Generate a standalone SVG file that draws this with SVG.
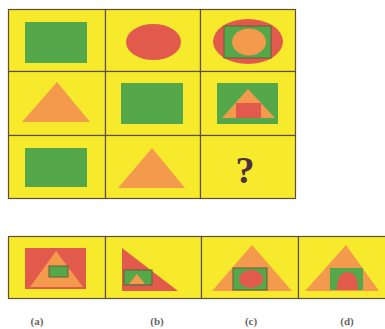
<svg xmlns="http://www.w3.org/2000/svg" width="385" height="329" viewBox="0 0 385 329">
<defs>
<style>
.cell{fill:#f7ea2c;stroke:#5d4f35;stroke-width:1.2}
.g{fill:#54a84a}
.r{fill:#e25a4c}
.o{fill:#f39a4c}
.gb{fill:#54a84a;stroke:#6b5a3a;stroke-width:1}
.lbl{font-family:"Liberation Serif",serif;font-size:11px;fill:#666;text-anchor:middle;font-weight:bold}
</style>
</defs>
<rect width="385" height="329" fill="#ffffff"/>
<g id="grid">
<rect class="cell" x="8.5" y="9.5" width="97" height="62"/>
<rect class="cell" x="105.5" y="9.5" width="95" height="62"/>
<rect class="cell" x="200.5" y="9.5" width="95" height="62"/>
<rect class="cell" x="8.5" y="71.5" width="97" height="64"/>
<rect class="cell" x="105.5" y="71.5" width="95" height="64"/>
<rect class="cell" x="200.5" y="71.5" width="95" height="64"/>
<rect class="cell" x="8.5" y="135.5" width="97" height="63"/>
<rect class="cell" x="105.5" y="135.5" width="95" height="63"/>
<rect class="cell" x="200.5" y="135.5" width="95" height="63"/>
</g>
<g id="r1c1"><rect class="g" x="25" y="22" width="62" height="41"/></g>
<g id="r1c2"><ellipse class="r" cx="153.5" cy="42" rx="27.5" ry="18"/></g>
<g id="r1c3">
<ellipse class="r" cx="248" cy="41.5" rx="35" ry="22.5"/>
<rect class="gb" x="224" y="26" width="47" height="32"/>
<ellipse class="o" cx="249" cy="42" rx="17" ry="13.5"/>
</g>
<g id="r2c1"><polygon class="o" points="57,82 90,122 22,122"/></g>
<g id="r2c2"><rect class="g" x="121" y="83" width="62" height="41"/></g>
<g id="r2c3">
<rect class="g" x="217" y="83" width="61" height="41"/>
<polygon class="o" points="248,89 275,118 222,118"/>
<rect class="r" x="236" y="103" width="25" height="15"/>
</g>
<g id="r3c1"><rect class="g" x="25" y="148" width="62" height="39"/></g>
<g id="r3c2"><polygon class="o" points="152,148 185,188 118,188"/></g>
<g id="r3c3"><text x="245" y="183" font-family="Liberation Serif,serif" font-size="38" font-weight="bold" fill="#4a3040" text-anchor="middle">?</text></g>
<g id="options">
<rect class="cell" x="8.5" y="236.5" width="97" height="62"/>
<rect class="cell" x="105.5" y="236.5" width="96" height="62"/>
<rect class="cell" x="201.5" y="236.5" width="97" height="62"/>
<rect class="cell" x="298.5" y="236.5" width="90" height="62"/>
</g>
<g id="opt-a">
<rect class="r" x="25" y="248" width="61" height="41"/>
<polygon class="o" points="56,251 83,287 30,287"/>
<rect class="gb" x="49" y="266" width="19" height="11"/>
</g>
<g id="opt-b">
<polygon class="r" points="122,248 178,291 122,291"/>
<rect class="gb" x="124" y="270" width="28" height="15"/>
<polygon class="o" points="137,274 145,284 129,284"/>
</g>
<g id="opt-c">
<polygon class="o" points="252,245 292,291 212,291"/>
<rect class="gb" x="233" y="268" width="34" height="22"/>
<ellipse class="r" cx="251" cy="279" rx="12" ry="9"/>
</g>
<g id="opt-d">
<polygon class="o" points="346,245 379,291 305,291"/>
<rect class="g" x="330" y="268" width="33" height="22"/>
<path class="r" d="M337,290 Q337,272 347.5,272 Q358,272 358,290 Z"/>
</g>
<g id="labels">
<text class="lbl" x="37" y="325">(a)</text>
<text class="lbl" x="157" y="325">(b)</text>
<text class="lbl" x="251" y="325">(c)</text>
<text class="lbl" x="347" y="325">(d)</text>
</g>
</svg>
